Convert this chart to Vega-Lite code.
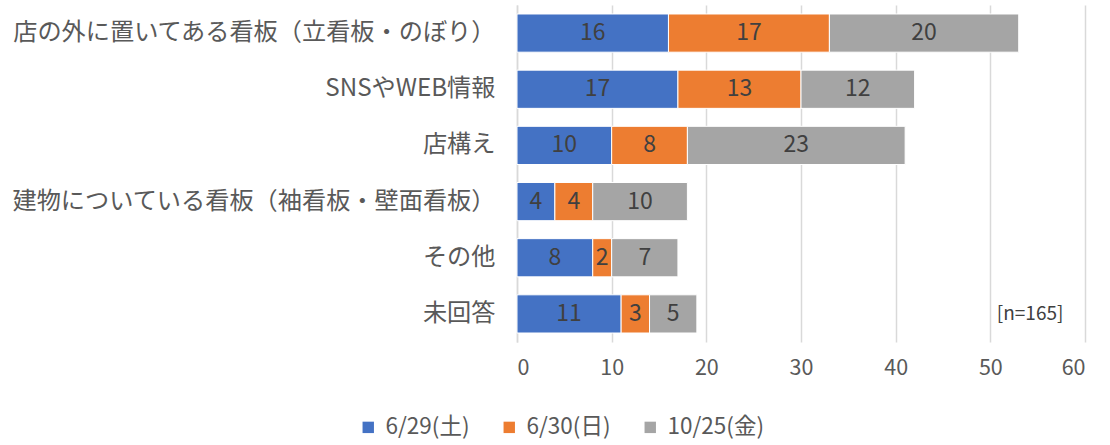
{
  "$schema": "https://vega.github.io/schema/vega-lite/v6.json",
  "autosize": {"type": "none"},
  "width": 568,
  "height": 337,
  "padding": {"left": 517, "top": 5, "right": 25, "bottom": 103},
  "background": "white",
  "config": {
    "font": "Noto Sans CJK JP",
    "view": {"stroke": null}
  },
  "data": {
    "values": [
      {"cat": "店の外に置いてある看板（立看板・のぼり）", "series": "6/29(土)", "ord": 1, "v": 16},
      {"cat": "店の外に置いてある看板（立看板・のぼり）", "series": "6/30(日)", "ord": 2, "v": 17},
      {"cat": "店の外に置いてある看板（立看板・のぼり）", "series": "10/25(金)", "ord": 3, "v": 20},
      {"cat": "SNSやWEB情報", "series": "6/29(土)", "ord": 1, "v": 17},
      {"cat": "SNSやWEB情報", "series": "6/30(日)", "ord": 2, "v": 13},
      {"cat": "SNSやWEB情報", "series": "10/25(金)", "ord": 3, "v": 12},
      {"cat": "店構え", "series": "6/29(土)", "ord": 1, "v": 10},
      {"cat": "店構え", "series": "6/30(日)", "ord": 2, "v": 8},
      {"cat": "店構え", "series": "10/25(金)", "ord": 3, "v": 23},
      {"cat": "建物についている看板（袖看板・壁面看板）", "series": "6/29(土)", "ord": 1, "v": 4},
      {"cat": "建物についている看板（袖看板・壁面看板）", "series": "6/30(日)", "ord": 2, "v": 4},
      {"cat": "建物についている看板（袖看板・壁面看板）", "series": "10/25(金)", "ord": 3, "v": 10},
      {"cat": "その他", "series": "6/29(土)", "ord": 1, "v": 8},
      {"cat": "その他", "series": "6/30(日)", "ord": 2, "v": 2},
      {"cat": "その他", "series": "10/25(金)", "ord": 3, "v": 7},
      {"cat": "未回答", "series": "6/29(土)", "ord": 1, "v": 11},
      {"cat": "未回答", "series": "6/30(日)", "ord": 2, "v": 3},
      {"cat": "未回答", "series": "10/25(金)", "ord": 3, "v": 5}
    ]
  },
  "transform": [
    {"stack": "v", "groupby": ["cat"], "sort": [{"field": "ord", "order": "ascending"}], "as": ["v0", "v1"]},
    {"calculate": "(datum.v0 + datum.v1) / 2", "as": "mid"}
  ],
  "encoding": {
    "y": {
      "field": "cat", "type": "nominal", "sort": null,
      "scale": {"paddingInner": 0.32, "paddingOuter": 0.16},
      "axis": {
        "title": null, "ticks": false, "domain": true, "domainColor": "#D9D9D9", "domainWidth": 1.5,
        "labelFontSize": 24.2, "labelColor": "#595959", "labelPadding": 22, "labelLimit": 600
      }
    }
  },
  "layer": [
    {
      "mark": {"type": "bar", "stroke": "white", "strokeWidth": 1},
      "encoding": {
        "x": {
          "field": "v0", "type": "quantitative",
          "scale": {"domain": [0, 60], "nice": false},
          "axis": {
            "title": null, "values": [0, 10, 20, 30, 40, 50, 60], "domain": false, "ticks": false,
            "grid": true, "gridColor": "#D9D9D9", "gridWidth": 1.5,
            "labelFontSize": 21.5, "labelColor": "#595959", "labelPadding": 15
          }
        },
        "x2": {"field": "v1"},
        "color": {
          "field": "series", "type": "nominal",
          "sort": ["6/29(土)", "6/30(日)", "10/25(金)"],
          "scale": {"domain": ["6/29(土)", "6/30(日)", "10/25(金)"], "range": ["#4472C4", "#ED7D31", "#A5A5A5"]},
          "legend": {
            "title": null, "orient": "none", "direction": "horizontal",
            "legendX": -160, "legendY": 411,
            "symbolType": "square", "symbolSize": 130, "symbolStrokeWidth": 0,
            "labelFontSize": 22.5, "labelColor": "#595959", "columnPadding": 28, "labelOffset": 6
          }
        },
        "order": {"field": "ord"}
      }
    },
    {
      "mark": {"type": "text", "fontSize": 23, "color": "#404040", "baseline": "middle", "align": "center"},
      "encoding": {
        "x": {"field": "mid", "type": "quantitative"},
        "text": {"field": "v", "type": "quantitative"}
      }
    },
    {
      "data": {"values": [{"cat": "未回答", "pos": 54.2, "label": "[n=165]"}]},
      "mark": {"type": "text", "fontSize": 19, "color": "#404040", "baseline": "middle", "align": "center"},
      "encoding": {
        "x": {"field": "pos", "type": "quantitative"},
        "text": {"field": "label"}
      }
    }
  ]
}
